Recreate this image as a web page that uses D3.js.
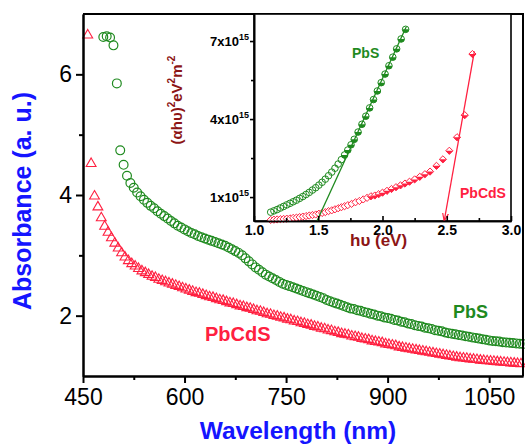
<!DOCTYPE html>
<html>
<head>
<meta charset="utf-8">
<script src="https://cdn.jsdelivr.net/npm/d3@7"></script>
<style>
  body { margin: 0; background: #fff; }
  svg { display: block; font-family: "Liberation Sans", Arial, sans-serif; }
  .axis path, .axis line { stroke: #000; stroke-width: 2; }
  .inset .axis path, .inset .axis line { stroke-width: 1.6; }
</style>
</head>
<body>
<svg id="chart" width="525" height="445"></svg>
<script>
// ---- main spectrum: absorbance vs wavelength (nm), uniform grid ----
const pbsStart = 480, pbsStep = 5;
const pbsAbs = [
  6.62, 6.63, 6.61, 6.48, 5.85, 4.74, 4.50, 4.32, 4.20, 4.12,
  4.04, 3.98, 3.92, 3.87, 3.82, 3.78, 3.73, 3.69, 3.65, 3.61,
  3.57, 3.53, 3.49, 3.46, 3.43, 3.40, 3.37, 3.35, 3.32, 3.30,
  3.28, 3.26, 3.24, 3.22, 3.20, 3.18, 3.16, 3.13, 3.10, 3.07,
  3.04, 3.00, 2.95, 2.90, 2.85, 2.80, 2.76, 2.72, 2.68, 2.65,
  2.62, 2.59, 2.56, 2.53, 2.51, 2.49, 2.47, 2.45, 2.43, 2.41,
  2.39, 2.37, 2.35, 2.33, 2.31, 2.29, 2.26, 2.24, 2.22, 2.20,
  2.18, 2.16, 2.14, 2.12, 2.11, 2.09, 2.08, 2.06, 2.05, 2.03,
  2.02, 2.00, 1.99, 1.97, 1.96, 1.95, 1.93, 1.92, 1.90, 1.89,
  1.87, 1.86, 1.84, 1.83, 1.82, 1.80, 1.79, 1.78, 1.76, 1.75,
  1.74, 1.72, 1.71, 1.70, 1.69, 1.68, 1.67, 1.66, 1.65, 1.64,
  1.63, 1.62, 1.61, 1.60, 1.59, 1.58, 1.575, 1.57, 1.56, 1.555,
  1.55, 1.545, 1.54, 1.535, 1.53
];

const pbcdsStart = 457, pbcdsStep = 5;
const pbcdsAbs = [
  6.65, 4.52, 3.98, 3.80, 3.62, 3.48, 3.38, 3.29, 3.20, 3.12,
  3.04, 2.97, 2.91, 2.86, 2.82, 2.78, 2.74, 2.71, 2.68, 2.65,
  2.63, 2.60, 2.58, 2.56, 2.54, 2.52, 2.50, 2.48, 2.46, 2.44,
  2.42, 2.40, 2.38, 2.37, 2.35, 2.33, 2.31, 2.30, 2.28, 2.26,
  2.25, 2.23, 2.21, 2.20, 2.18, 2.16, 2.15, 2.13, 2.12, 2.10,
  2.08, 2.07, 2.05, 2.03, 2.02, 2.00, 1.99, 1.97, 1.96, 1.94,
  1.93, 1.91, 1.90, 1.88, 1.87, 1.85, 1.84, 1.82, 1.81, 1.79,
  1.78, 1.76, 1.75, 1.73, 1.72, 1.70, 1.69, 1.68, 1.66, 1.65,
  1.64, 1.62, 1.61, 1.60, 1.58, 1.57, 1.56, 1.55, 1.53, 1.52,
  1.51, 1.50, 1.48, 1.47, 1.46, 1.45, 1.44, 1.43, 1.42, 1.41,
  1.40, 1.39, 1.38, 1.37, 1.36, 1.35, 1.34, 1.33, 1.32, 1.31,
  1.30, 1.295, 1.29, 1.28, 1.275, 1.27, 1.26, 1.255, 1.25, 1.245,
  1.24, 1.235, 1.23, 1.225, 1.22, 1.215, 1.21, 1.205, 1.20
];

const mainXTicks = [450, 600, 750, 900, 1050];
const mainXMinor = [525, 675, 825, 975];
const mainYTicks = [2, 4, 6];
const mainYMinor = [3, 5];

// ---- inset: (alpha h nu)^2 in units of 1e15 vs photon energy (eV) ----
const insetPbsEv = [
  1.13, 1.155, 1.18, 1.205, 1.23, 1.255, 1.28, 1.305, 1.33, 1.355,
  1.38, 1.405, 1.43, 1.455, 1.48, 1.505, 1.53, 1.555, 1.58, 1.605,
  1.63, 1.655, 1.68, 1.705, 1.73, 1.755, 1.78, 1.81, 1.84, 1.87,
  1.90, 1.93, 1.96, 1.99, 2.02, 2.05, 2.08, 2.11, 2.145, 2.18
];
const insetPbsVal = [
  0.42, 0.47, 0.52, 0.58, 0.64, 0.70, 0.76, 0.82, 0.88, 0.95,
  1.02, 1.10, 1.18, 1.27, 1.36, 1.46, 1.57, 1.69, 1.82, 1.96,
  2.11, 2.27, 2.44, 2.62, 2.81, 3.01, 3.22, 3.50, 3.80, 4.11,
  4.43, 4.75, 5.08, 5.40, 5.73, 6.05, 6.38, 6.70, 7.08, 7.45
];
const insetPbcdsEv = [
  1.13, 1.155, 1.18, 1.205, 1.23, 1.255, 1.28, 1.305, 1.33, 1.355,
  1.38, 1.405, 1.43, 1.455, 1.48, 1.505, 1.53, 1.555, 1.58, 1.605,
  1.63, 1.655, 1.68, 1.705, 1.73, 1.76, 1.79, 1.82, 1.85, 1.88,
  1.91, 1.94, 1.97, 2.00, 2.035, 2.07, 2.105, 2.14, 2.175, 2.21,
  2.25, 2.29, 2.33, 2.37, 2.42, 2.47, 2.52, 2.58, 2.64, 2.70
];
const insetPbcdsVal = [
  0.12, 0.13, 0.14, 0.15, 0.16, 0.17, 0.18, 0.20, 0.21, 0.23,
  0.25, 0.27, 0.29, 0.31, 0.33, 0.36, 0.39, 0.42, 0.46, 0.49,
  0.53, 0.57, 0.61, 0.65, 0.69, 0.74, 0.80, 0.85, 0.91, 0.97,
  1.03, 1.06, 1.11, 1.17, 1.24, 1.31, 1.38, 1.45, 1.52, 1.59,
  1.68, 1.78, 1.88, 1.98, 2.20, 2.45, 2.78, 3.30, 4.15, 6.50
];
// linear (Tauc) fits: [eV, value] end points
const pbsFit = [[1.49, 0.08], [2.185, 7.55]];
const pbcdsFit = [[2.715, 6.6], [2.48, 0.08]];

const insetXTicks = [1.0, 1.5, 2.0, 2.5, 3.0];
const insetXMinor = [1.25, 1.75, 2.25, 2.75];
const insetYTicks = [1, 4, 7];
const insetYMinor = [2.5, 5.5];

const GREEN = "#1f8a1f";
const RED = "#ff2040";
const BLUE = "#1515ff";
const DARKRED = "#8c1515";

const svg = d3.select("#chart");

// ---------- main plot ----------
const m = { left: 83, right: 523, top: 14, bottom: 376 };
const x = d3.scaleLinear().domain([450, 1100]).range([m.left, m.right]);
const y = d3.scaleLinear().domain([1, 7]).range([m.bottom, m.top]);

const pbs = pbsAbs.map((v, i) => ({ w: pbsStart + i * pbsStep, v }));
const pbcds = pbcdsAbs.map((v, i) => ({ w: pbcdsStart + i * pbcdsStep, v }));

const plot = svg.append("g");

plot.selectAll(".pbcds")
  .data(pbcds)
  .enter()
  .append("path")
  .attr("class", "pbcds")
  .attr("d", d3.symbol(d3.symbolTriangle, 42))
  .attr("transform", (d) => `translate(${x(d.w)},${y(d.v)})`)
  .style("fill", "none")
  .style("stroke", RED)
  .style("stroke-width", 1.1);

plot.selectAll(".pbs")
  .data(pbs)
  .enter()
  .append("circle")
  .attr("class", "pbs")
  .attr("cx", (d) => x(d.w))
  .attr("cy", (d) => y(d.v))
  .attr("r", 4.4)
  .style("fill", "none")
  .style("stroke", GREEN)
  .style("stroke-width", 1.2);

// frame (top + right)
svg.append("path")
  .attr("d", `M${m.left},${m.top}H${m.right}V${m.bottom}`)
  .style("fill", "none")
  .style("stroke", "#000")
  .style("stroke-width", 2);

const tickFont = (sel, size) =>
  sel.selectAll("text").style("font-size", size + "px").style("fill", "#000");

const xAxis = svg.append("g")
  .attr("class", "axis")
  .attr("transform", `translate(0,${m.bottom})`)
  .call(d3.axisBottom(x).tickValues(mainXTicks).tickSize(7).tickPadding(6)
    .tickSizeOuter(0).tickFormat(d3.format("d")));
tickFont(xAxis, 23);
svg.append("g")
  .attr("class", "axis")
  .attr("transform", `translate(0,${m.bottom})`)
  .call(d3.axisBottom(x).tickValues(mainXMinor).tickSize(4).tickFormat("").tickSizeOuter(0));

const yAxis = svg.append("g")
  .attr("class", "axis")
  .attr("transform", `translate(${m.left},0)`)
  .call(d3.axisLeft(y).tickValues(mainYTicks).tickSize(7).tickPadding(4)
    .tickSizeOuter(0).tickFormat(d3.format("d")));
tickFont(yAxis, 23);
svg.append("g")
  .attr("class", "axis")
  .attr("transform", `translate(${m.left},0)`)
  .call(d3.axisLeft(y).tickValues(mainYMinor).tickSize(4).tickFormat("").tickSizeOuter(0));

svg.append("text")
  .attr("x", 298)
  .attr("y", 439)
  .attr("text-anchor", "middle")
  .style("font-size", "24.5px")
  .style("font-weight", "bold")
  .style("fill", BLUE)
  .text("Wavelength (nm)");

svg.append("text")
  .attr("transform", "translate(31,201) rotate(-90)")
  .attr("text-anchor", "middle")
  .style("font-size", "25px")
  .style("font-weight", "bold")
  .style("fill", BLUE)
  .text("Absorbance (a. u.)");

svg.append("text")
  .attr("x", 453).attr("y", 318)
  .style("font-size", "18px").style("font-weight", "bold")
  .style("fill", GREEN)
  .text("PbS");
svg.append("text")
  .attr("x", 205).attr("y", 341)
  .style("font-size", "20px").style("font-weight", "bold")
  .style("fill", RED)
  .text("PbCdS");

// ---------- inset ----------
const n = { left: 254, right: 511, top: 14, bottom: 221 };
const ix = d3.scaleLinear().domain([1, 3]).range([n.left, n.right]);
const iy = d3.scaleLinear().domain([0.08, 8.04]).range([n.bottom, n.top]);

const inset = svg.append("g").attr("class", "inset");
inset.append("rect")
  .attr("x", n.left).attr("y", n.top)
  .attr("width", n.right - n.left).attr("height", n.bottom - n.top)
  .style("fill", "#fff")
  .style("stroke", "#000")
  .style("stroke-width", 1.6);

const line = d3.line().x((d) => ix(d[0])).y((d) => iy(d[1]));

const insetPbs = insetPbsEv.map((e, i) => ({ e, v: insetPbsVal[i] }));
const insetPbcds = insetPbcdsEv.map((e, i) => ({ e, v: insetPbcdsVal[i] }));

// diamonds: outline plus filled lower half on the steep part
const diamond = (r) => `M0,${-r}L${r},0L0,${r}L${-r},0Z`;
const diamondLow = (r) => `M${-r},0L${r},0L0,${r}Z`;

const dg = inset.selectAll(".idia")
  .data(insetPbcds)
  .enter()
  .append("g")
  .attr("class", "idia")
  .attr("transform", (d) => `translate(${ix(d.e)},${iy(d.v)})`);
dg.append("path")
  .attr("d", diamond(3.6))
  .style("fill", "#fff")
  .style("stroke", RED)
  .style("stroke-width", 1);
dg.filter((d) => d.e > 1.9)
  .append("path")
  .attr("d", diamondLow(3.6))
  .style("fill", RED);

const cg = inset.selectAll(".icirc")
  .data(insetPbs)
  .enter()
  .append("g")
  .attr("class", "icirc")
  .attr("transform", (d) => `translate(${ix(d.e)},${iy(d.v)})`);
cg.append("circle")
  .attr("r", 3.3)
  .style("fill", "none")
  .style("stroke", GREEN)
  .style("stroke-width", 1);
cg.filter((d) => d.e > 1.7)
  .append("path")
  .attr("d", d3.arc()({ innerRadius: 0, outerRadius: 3.3, startAngle: Math.PI / 2, endAngle: 1.5 * Math.PI }))
  .style("fill", GREEN);

svg.append("defs").append("marker")
  .attr("id", "arrow")
  .attr("viewBox", "0 -4 8 8")
  .attr("refX", 8).attr("refY", 0)
  .attr("markerWidth", 6).attr("markerHeight", 6)
  .attr("orient", "auto")
  .append("path")
  .attr("d", "M0,-3L8,0L0,3")
  .style("fill", "none")
  .style("stroke", RED)
  .style("stroke-width", 1.2);

inset.append("path")
  .attr("d", line(pbsFit))
  .style("fill", "none")
  .style("stroke", GREEN)
  .style("stroke-width", 1.3);
inset.append("path")
  .attr("d", line(pbcdsFit))
  .attr("marker-end", "url(#arrow)")
  .style("fill", "none")
  .style("stroke", RED)
  .style("stroke-width", 1.3);

const ixAxis = inset.append("g")
  .attr("class", "axis")
  .attr("transform", `translate(0,${n.bottom})`)
  .call(d3.axisBottom(ix).tickValues(insetXTicks).tickSize(-5).tickPadding(4)
    .tickSizeOuter(0).tickFormat(d3.format(".1f")));
ixAxis.selectAll("text")
  .style("font-size", "14px").style("font-weight", "bold").style("fill", "#000");
inset.append("g")
  .attr("class", "axis")
  .attr("transform", `translate(0,${n.bottom})`)
  .call(d3.axisBottom(ix).tickValues(insetXMinor).tickSize(-3).tickFormat("").tickSizeOuter(0));

inset.append("g")
  .attr("class", "axis")
  .attr("transform", `translate(${n.left},0)`)
  .call(d3.axisLeft(iy).tickValues(insetYTicks).tickSize(4).tickFormat("").tickSizeOuter(0));
inset.append("g")
  .attr("class", "axis")
  .attr("transform", `translate(${n.left},0)`)
  .call(d3.axisLeft(iy).tickValues(insetYMinor).tickSize(3).tickFormat("").tickSizeOuter(0));

// tick labels like 7x10^15
const yl = inset.selectAll(".ylab")
  .data(insetYTicks)
  .enter()
  .append("text")
  .attr("class", "ylab")
  .attr("x", n.left - 5)
  .attr("y", (d) => iy(d) + 5)
  .attr("text-anchor", "end")
  .style("font-size", "13px")
  .style("font-weight", "bold");
yl.append("tspan").text((d) => d + "x10");
yl.append("tspan").attr("dy", -6).style("font-size", "9px").text("15");

svg.append("text")
  .attr("x", 350).attr("y", 246)
  .style("font-size", "17px").style("font-weight", "bold")
  .style("fill", DARKRED)
  .text("h\u03C5 (eV)");

const yt = svg.append("text")
  .attr("transform", "translate(182,100) rotate(-90)")
  .attr("text-anchor", "middle")
  .style("font-size", "15px").style("font-weight", "bold")
  .style("fill", DARKRED);
yt.append("tspan").text("(\u03B1h\u03C5)");
yt.append("tspan").attr("dy", -7).style("font-size", "10px").text("2");
yt.append("tspan").attr("dy", 7).text("eV");
yt.append("tspan").attr("dy", -7).style("font-size", "10px").text("2");
yt.append("tspan").attr("dy", 7).text("m");
yt.append("tspan").attr("dy", -7).style("font-size", "10px").text("-2");

inset.append("text")
  .attr("x", 352).attr("y", 58)
  .style("font-size", "14px").style("font-weight", "bold")
  .style("fill", GREEN)
  .text("PbS");
inset.append("text")
  .attr("x", 460).attr("y", 198)
  .style("font-size", "14px").style("font-weight", "bold")
  .style("fill", RED)
  .text("PbCdS");
</script>
</body>
</html>
